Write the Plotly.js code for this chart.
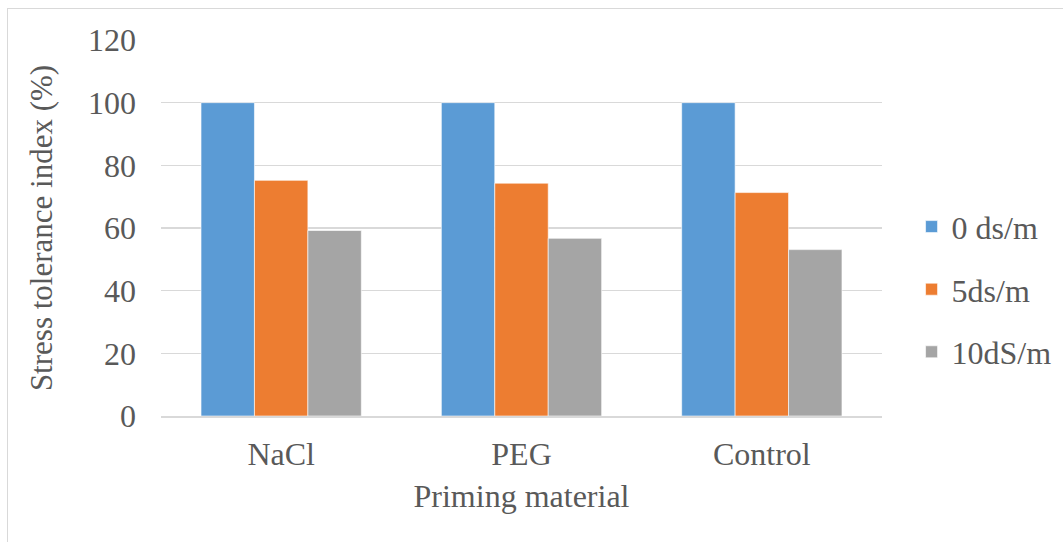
<!DOCTYPE html>
<html>
<head>
<meta charset="utf-8">
<script src="https://cdn.plot.ly/plotly-3.0.1.min.js"></script>
<style>
  html, body { margin: 0; padding: 0; background: #fff; }
  #frame { position: absolute; left: 7px; top: 8px; width: 1100px; height: 600px;
           border-left: 1.5px solid #d9d9d9; border-top: 1.5px solid #d9d9d9; }
  #chart { position: absolute; left: 0; top: 0; width: 1063px; height: 542px; }
</style>
</head>
<body>
<div id="frame"></div>
<div id="chart"></div>
<script>
// Priming materials and stress tolerance index per salinity level
const categories = ['NaCl', 'PEG', 'Control'];
const seriesNames = ['0 ds/m', '5ds/m', '10dS/m'];
const salinity0 = [100, 100, 100];
const salinity5 = [75.2, 74.3, 71.3];
const salinity10 = [59.2, 56.7, 53.1];
const yTicks = [0, 20, 40, 60, 80, 100, 120];

const colors = ['#5B9BD5', '#ED7D31', '#A5A5A5'];
const values = [salinity0, salinity5, salinity10];
const font = 'Liberation Serif, Times New Roman, serif';

const traces = values.map((v, i) => ({
  type: 'bar',
  x: categories,
  y: v,
  name: seriesNames[i],
  legendgroup: 'g' + i,
  marker: { color: colors[i], line: { color: 'rgba(255,255,255,0.6)', width: 1 } },
  hoverinfo: 'x+y+name'
}));

const layout = {
  width: 1063,
  height: 542,
  margin: { l: 161, r: 181, t: 40, b: 126, autoexpand: false },
  paper_bgcolor: 'rgba(0,0,0,0)',
  plot_bgcolor: 'rgba(0,0,0,0)',
  barmode: 'group',
  bargap: 0.333,
  bargroupgap: 0,
  font: { family: font, color: '#595959', size: 32 },
  xaxis: {
    type: 'category',
    showgrid: false,
    showline: true,
    linecolor: '#d9d9d9',
    linewidth: 1.5,
    ticks: '',
    ticklabelstandoff: 9,
    tickfont: { family: font, size: 32, color: '#595959' },
    title: { text: 'Priming material', font: { family: font, size: 32, color: '#595959' }, standoff: 13 }
  },
  yaxis: {
    range: [0, 120],
    tickvals: yTicks,
    ticktext: yTicks.map(String),
    showgrid: true,
    gridcolor: '#d9d9d9',
    gridwidth: 1.5,
    zeroline: false,
    showline: false,
    ticks: '',
    ticklabelstandoff: 24,
    tickfont: { family: font, size: 32, color: '#595959' },
    title: { text: 'Stress tolerance index (%)', font: { family: font, size: 31, color: '#595959' }, standoff: 26 }
  },
  legend: {
    x: 1.041,
    xanchor: 'left',
    y: 0.337,
    yanchor: 'middle',
    font: { family: font, size: 32, color: '#595959' },
    tracegroupgap: 18,
    itemwidth: 30,
    bgcolor: 'rgba(0,0,0,0)'
  },
  showlegend: true
};

Plotly.newPlot('chart', traces, layout, { displayModeBar: false, staticPlot: true });
</script>
</body>
</html>
